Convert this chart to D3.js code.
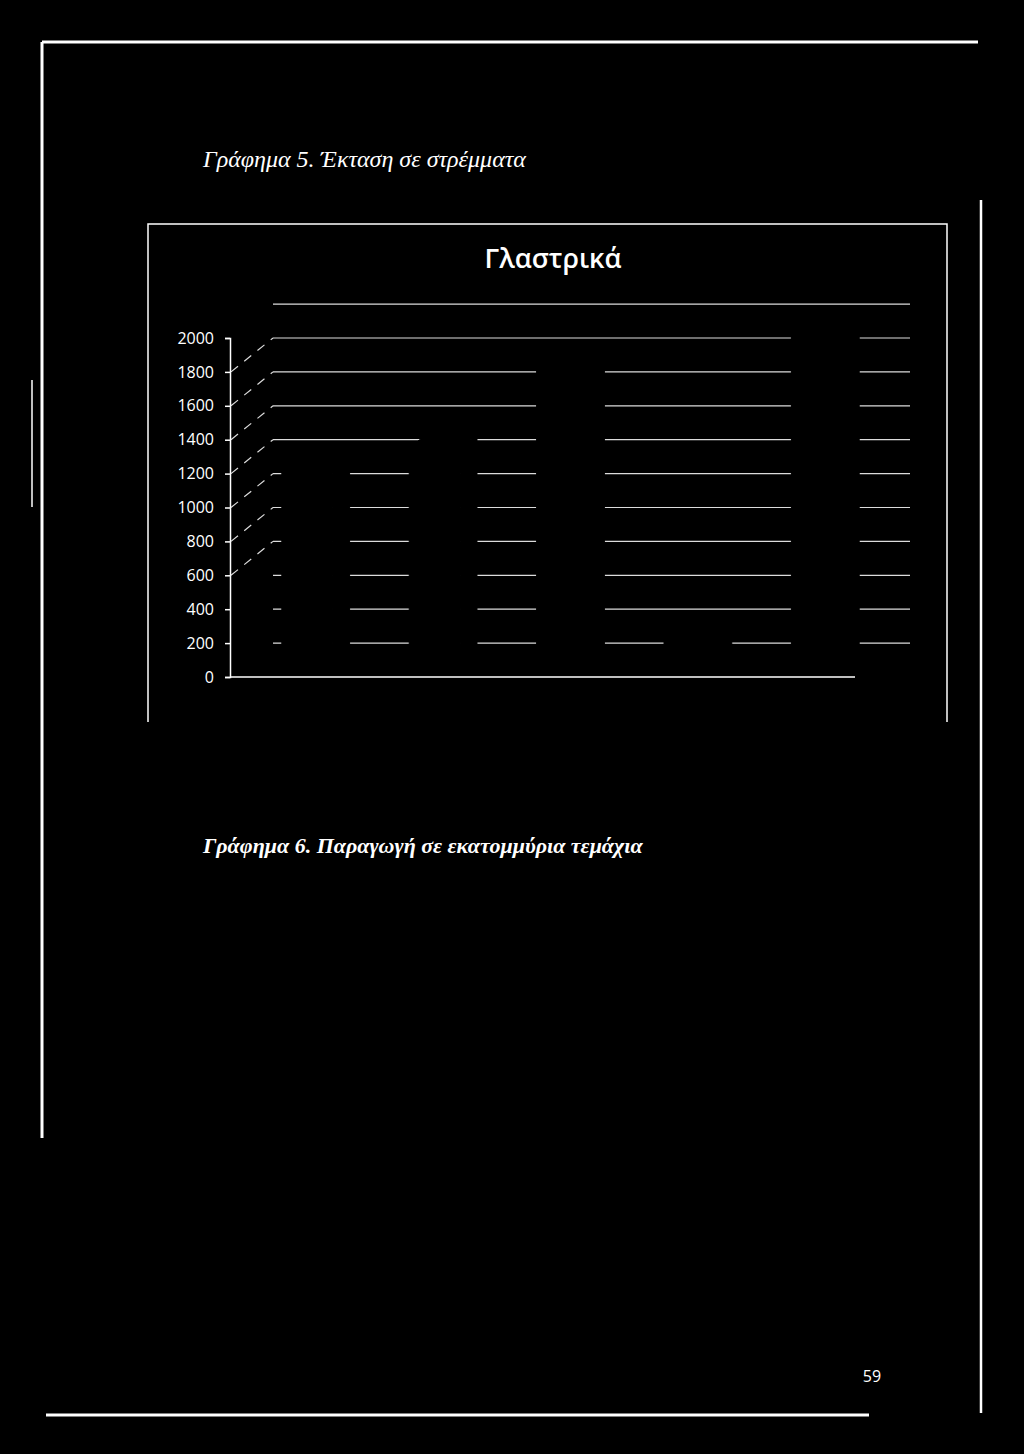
<!DOCTYPE html>
<html>
<head>
<meta charset="utf-8">
<script src="https://cdn.jsdelivr.net/npm/d3@7"></script>
<style>
  html, body { margin: 0; background: #000; }
  svg { display: block; }
</style>
</head>
<body>
<script>
// category names did not survive the scan, so they are only keys here
var categories = ["c1", "c2", "c3", "c4", "c5"];
var areaValues = [1200, 1290, 1800, 200, 1970];
var tickValues = [0, 200, 400, 600, 800, 1000, 1200, 1400, 1600, 1800, 2000];
var sideGridValues = [600, 800, 1000, 1200, 1400, 1600, 1800];

var W = 1024, H = 1454;

var svg = d3.select("body").append("svg")
    .attr("width", W)
    .attr("height", H);

svg.append("rect").attr("width", W).attr("height", H).attr("fill", "#000");

// page frame of the scanned sheet
var frame = [
    [42, 42, 978, 42, 3],
    [42, 42, 42, 1138, 3],
    [32, 380, 32, 507, 1.5],
    [981, 200, 981, 1413, 2.5],
    [46, 1415, 869, 1415, 3]
];
svg.selectAll(".frame")
    .data(frame)
    .join("line")
    .attr("class", "frame")
    .attr("x1", d => d[0]).attr("y1", d => d[1])
    .attr("x2", d => d[2]).attr("y2", d => d[3])
    .attr("stroke", "#fff")
    .attr("stroke-width", d => d[4]);

svg.append("text")
    .attr("x", 203).attr("y", 167)
    .attr("fill", "#fff")
    .style("font-family", "'Liberation Serif', 'DejaVu Serif', serif")
    .style("font-style", "italic")
    .style("font-size", "24px")
    .text("Γράφημα 5. Έκταση σε στρέμματα");

svg.append("text")
    .attr("x", 203).attr("y", 853)
    .attr("fill", "#fff")
    .style("font-family", "'Liberation Serif', 'DejaVu Serif', serif")
    .style("font-style", "italic")
    .style("font-weight", "bold")
    .style("font-size", "22px")
    .text("Γράφημα 6. Παραγωγή σε εκατομμύρια τεμάχια");

svg.append("text")
    .attr("x", 872).attr("y", 1382)
    .attr("text-anchor", "middle")
    .attr("fill", "#fff")
    .style("font-family", "'Open Sans', sans-serif")
    .style("font-size", "16px")
    .text("59");

// chart box (open at the bottom in the scan)
svg.append("path")
    .attr("d", "M148,722V224H947V722")
    .attr("fill", "none")
    .attr("stroke", "#fff")
    .attr("stroke-width", 1.5);

svg.append("text")
    .attr("x", 553).attr("y", 268)
    .attr("text-anchor", "middle")
    .attr("fill", "#fff")
    .style("font-family", "'Open Sans', sans-serif")
    .style("font-weight", "600")
    .style("font-size", "27px")
    .text("Γλαστρικά");

// 3D column chart
var y = d3.scaleLinear().domain([0, 2000]).range([677, 338]);
var x = d3.scaleBand()
    .domain(categories)
    .range([231, 868])
    .paddingInner(0.6)
    .paddingOuter(0.3);

var DX = 42, DY = y(0) - y(200);
var f0 = 0.3, f1 = 0.7;   // bar front / back as fraction of depth

function pt(px, v, f) {
    return [px + f * DX, y(v) - f * DY];
}

var g = svg.append("g");

// back wall gridlines
g.selectAll(".grid")
    .data(tickValues)
    .join("line")
    .attr("class", "grid")
    .attr("x1", 231 + DX).attr("x2", 868 + DX)
    .attr("y1", d => y(d) - DY).attr("y2", d => y(d) - DY)
    .attr("stroke", "#dcdcdc")
    .attr("stroke-width", 1.2);

// side wall gridlines, broken up in the scan
g.selectAll(".side")
    .data(sideGridValues)
    .join("line")
    .attr("class", "side")
    .attr("x1", 231).attr("y1", d => y(d))
    .attr("x2", 231 + DX).attr("y2", d => y(d) - DY)
    .attr("stroke", "#dcdcdc")
    .attr("stroke-width", 1.2)
    .attr("stroke-dasharray", "9,8");

// floor front edge
g.append("line")
    .attr("x1", 230).attr("x2", 855)
    .attr("y1", y(0)).attr("y2", y(0))
    .attr("stroke", "#fff")
    .attr("stroke-width", 1.5);

// bars are solid black in the scan, they only hide the gridlines
var bars = g.selectAll(".bar")
    .data(areaValues.map((v, i) => ({ key: categories[i], value: v })))
    .join("g")
    .attr("class", "bar");

var line = d3.line();
bars.append("path")
    .attr("d", d => {
        var l = x(d.key), r = l + x.bandwidth();
        return line([pt(l, 0, f0), pt(r, 0, f0), pt(r, d.value, f0), pt(l, d.value, f0)]) + "Z";
    });
bars.append("path")
    .attr("d", d => {
        var r = x(d.key) + x.bandwidth();
        return line([pt(r, 0, f0), pt(r, 0, f1), pt(r, d.value, f1), pt(r, d.value, f0)]) + "Z";
    });
bars.append("path")
    .attr("d", d => {
        var l = x(d.key), r = l + x.bandwidth();
        return line([pt(l, d.value, f0), pt(r, d.value, f0), pt(r, d.value, f1), pt(l, d.value, f1)]) + "Z";
    });
bars.selectAll("path")
    .attr("fill", "#000")
    .attr("stroke", "#000")
    .attr("stroke-width", 1);

// value axis on the front left edge
var axis = g.append("g")
    .attr("transform", "translate(230,0)")
    .call(d3.axisLeft(y).tickValues(tickValues).tickFormat(d3.format("d")).tickSize(5).tickPadding(11));
axis.selectAll("path, line").attr("stroke", "#fff").attr("stroke-width", 1.5);
axis.selectAll("text")
    .attr("fill", "#fff")
    .style("font-family", "'Open Sans', sans-serif")
    .style("font-size", "16px");
</script>
</body>
</html>
